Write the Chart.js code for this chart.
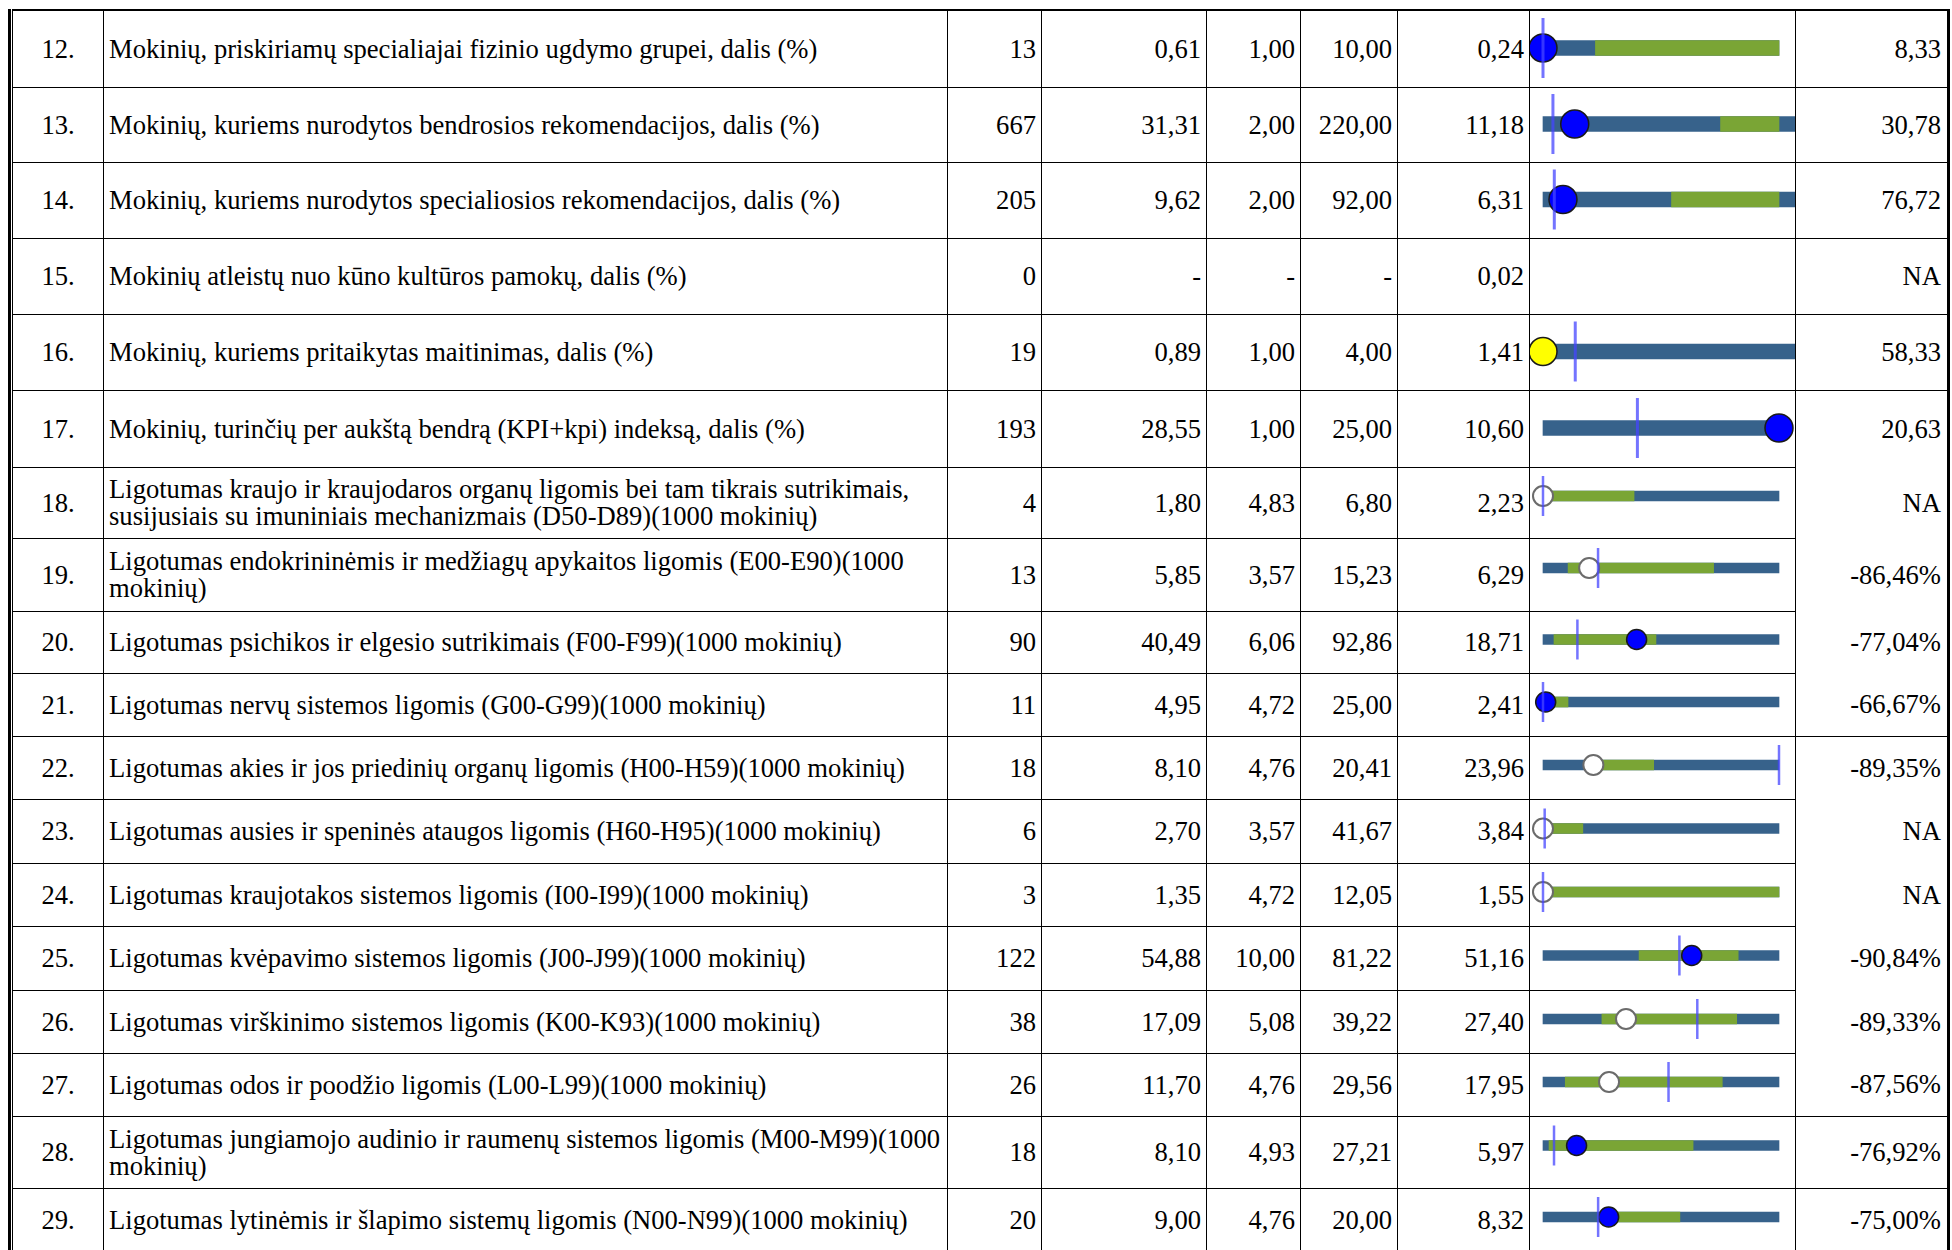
<!DOCTYPE html>
<html lang="lt">

<head>
    <meta charset="UTF-8">
    <title>Rodikliai</title>
    <script src="https://cdn.jsdelivr.net/npm/chart.js"></script>
    <style>
        body { margin: 0; background: #fff; width: 1952px; height: 1250px; overflow: hidden; }
        #wrap { position: absolute; left: 8px; top: 9px; border-left: 3px solid #000; padding-left: 1px; }
        table { border-collapse: collapse; table-layout: fixed; font-family: "Liberation Serif", "DejaVu Serif", serif; font-size: 26.6px; color: #000;
                border-top: 2px solid #000; border-right: 3px solid #000; border-left: 1px solid #000; }
        td { border: 1px solid #000; padding: 0 5px; vertical-align: middle; white-space: nowrap; line-height: 27px; overflow: hidden; }
        td.no { text-align: center; }
        td.num { text-align: right; }
        td.chart { padding: 0; }
        td.chart canvas { display: block; }
        td.last { border-top: none; border-bottom: none; text-align: right; padding-right: 6px; }
        td.last.ruled { border-top: 1px solid #000; }
    </style>
</head>

<body>
    <div id="wrap">
        <table id="tbl">
            <colgroup>
                <col style="width:91px"><col style="width:844px"><col style="width:94px"><col style="width:165px">
                <col style="width:94px"><col style="width:97px"><col style="width:132px"><col style="width:266px"><col style="width:153px">
            </colgroup>
            <tbody id="body"></tbody>
        </table>
    </div>
</body>

</html>
<script>
    // table data
    const rowNo = [12, 13, 14, 15, 16, 17, 18, 19, 20, 21, 22, 23, 24, 25, 26, 27, 28, 29];
    const labels = [
        'Mokinių, priskiriamų specialiajai fizinio ugdymo grupei, dalis (%)',
        'Mokinių, kuriems nurodytos bendrosios rekomendacijos, dalis (%)',
        'Mokinių, kuriems nurodytos specialiosios rekomendacijos, dalis (%)',
        'Mokinių atleistų nuo kūno kultūros pamokų, dalis (%)',
        'Mokinių, kuriems pritaikytas maitinimas, dalis (%)',
        'Mokinių, turinčių per aukštą bendrą (KPI+kpi) indeksą, dalis (%)',
        'Ligotumas kraujo ir kraujodaros organų ligomis bei tam tikrais sutrikimais,<br>susijusiais su imuniniais mechanizmais (D50-D89)(1000 mokinių)',
        'Ligotumas endokrininėmis ir medžiagų apykaitos ligomis (E00-E90)(1000<br>mokinių)',
        'Ligotumas psichikos ir elgesio sutrikimais (F00-F99)(1000 mokinių)',
        'Ligotumas nervų sistemos ligomis (G00-G99)(1000 mokinių)',
        'Ligotumas akies ir jos priedinių organų ligomis (H00-H59)(1000 mokinių)',
        'Ligotumas ausies ir speninės ataugos ligomis (H60-H95)(1000 mokinių)',
        'Ligotumas kraujotakos sistemos ligomis (I00-I99)(1000 mokinių)',
        'Ligotumas kvėpavimo sistemos ligomis (J00-J99)(1000 mokinių)',
        'Ligotumas virškinimo sistemos ligomis (K00-K93)(1000 mokinių)',
        'Ligotumas odos ir poodžio ligomis (L00-L99)(1000 mokinių)',
        'Ligotumas jungiamojo audinio ir raumenų sistemos ligomis (M00-M99)(1000<br>mokinių)',
        'Ligotumas lytinėmis ir šlapimo sistemų ligomis (N00-N99)(1000 mokinių)'
    ];
    const counts = [13, 667, 205, 0, 19, 193, 4, 13, 90, 11, 18, 6, 3, 122, 38, 26, 18, 20];
    const values = [0.61, 31.31, 9.62, null, 0.89, 28.55, 1.80, 5.85, 40.49, 4.95, 8.10, 2.70, 1.35, 54.88, 17.09, 11.70, 8.10, 9.00];
    const mins = [1.00, 2.00, 2.00, null, 1.00, 1.00, 4.83, 3.57, 6.06, 4.72, 4.76, 3.57, 4.72, 10.00, 5.08, 4.76, 4.93, 4.76];
    const maxs = [10.00, 220.00, 92.00, null, 4.00, 25.00, 6.80, 15.23, 92.86, 25.00, 20.41, 41.67, 12.05, 81.22, 39.22, 29.56, 27.21, 20.00];
    const avgs = [0.24, 11.18, 6.31, 0.02, 1.41, 10.60, 2.23, 6.29, 18.71, 2.41, 23.96, 3.84, 1.55, 51.16, 27.40, 17.95, 5.97, 8.32];
    const changes = ['8,33', '30,78', '76,72', 'NA', '58,33', '20,63', 'NA', '-86,46%', '-77,04%', '-66,67%', '-89,35%', 'NA', 'NA', '-90,84%', '-89,33%', '-87,56%', '-76,92%', '-75,00%'];
    // bullet chart: green band and blue tail past the max
    const greenLo = [3.0, 166, 51, null, null, null, 4.83, 4.81, 10.1, 4.72, 7.9, 3.57, 4.72, 39.0, 13.6, 7.1, 5.5, 8.5];
    const greenHi = [10.0, 220, 92, null, null, null, 5.59, 12.0, 47.6, 6.87, 12.1, 10.0, 12.05, 68.9, 33.1, 23.6, 19.1, 13.6];
    const tailEnd = [null, 240, 100, null, 4.3, null, null, null, null, null, null, null, null, null, null, null, null, null];
    const status = ['good', 'good', 'good', null, 'warn', 'good', 'ns', 'ns', 'good', 'good', 'ns', 'ns', 'ns', 'good', 'ns', 'ns', 'good', 'good'];

    // layout
    const rowH = [77, 75, 76, 76, 76, 77, 71, 73, 62, 63, 63, 64, 63, 64, 63, 63, 72, 63];
    const lastColRuled = new Set([12, 13, 14, 15, 16, 17, 22, 28, 29]);
    const BLUE = '#37628b', GREEN = '#7aa535';
    const markerFill = { good: '#0000ff', warn: '#ffff00', ns: '#ffffff' };
    const markerEdge = { good: '#1a1a1a', warn: '#1a1a1a', ns: '#6b6b6b' };

    const fmt = v => v == null ? '-' : v.toFixed(2).replace('.', ',');
    const clamp = (v, lo, hi) => Math.min(Math.max(v, lo), hi);

    const body = document.getElementById('body');
    rowNo.forEach((n, i) => {
        const tr = document.createElement('tr');
        tr.style.height = rowH[i] + 'px';
        tr.innerHTML =
            '<td class="no">' + n + '.</td>' +
            '<td>' + labels[i] + '</td>' +
            '<td class="num">' + counts[i] + '</td>' +
            '<td class="num">' + fmt(values[i]) + '</td>' +
            '<td class="num">' + fmt(mins[i]) + '</td>' +
            '<td class="num">' + fmt(maxs[i]) + '</td>' +
            '<td class="num">' + fmt(avgs[i]) + '</td>' +
            '<td class="chart"><canvas id="c' + i + '" width="265" height="' + (rowH[i] - 1) + '"></canvas></td>' +
            '<td class="last' + (lastColRuled.has(n) ? ' ruled' : '') + '">' + changes[i] + '</td>';
        body.appendChild(tr);
    });

    rowNo.forEach((n, i) => {
        if (mins[i] == null) return;
        const big = i < 6;
        const tall = rowH[i] > 70 && !big;
        const lo = mins[i], hi = maxs[i];
        new Chart(document.getElementById('c' + i), {
            type: 'bar',
            data: {
                labels: ['r'],
                datasets: [{
                    data: [[lo, tailEnd[i] ?? hi]],
                    backgroundColor: BLUE,
                    barThickness: big ? 15 : 10,
                    grouped: false,
                    order: 4,
                    clip: false
                }, {
                    data: [greenLo[i] == null ? null : [greenLo[i], greenHi[i]]],
                    backgroundColor: GREEN,
                    barThickness: big ? 15 : 10,
                    grouped: false,
                    order: 3,
                    clip: false
                }, {
                    type: 'line',
                    data: [clamp(values[i], lo, hi)],
                    showLine: false,
                    pointRadius: big ? 14 : 10,
                    pointBackgroundColor: markerFill[status[i]],
                    pointBorderColor: markerEdge[status[i]],
                    pointBorderWidth: status[i] == 'ns' ? 2 : 1.5,
                    order: 2,
                    clip: false
                }, {
                    type: 'line',
                    data: [clamp(avgs[i], lo, hi)],
                    showLine: false,
                    pointStyle: 'line',
                    rotation: 90,
                    pointRadius: big ? 30 : 20,
                    pointBorderColor: 'rgba(70, 70, 255, 0.75)',
                    pointBorderWidth: big ? 3 : 2.5,
                    order: 1,
                    clip: false
                }]
            },
            options: {
                indexAxis: 'y',
                responsive: false,
                animation: false,
                events: [],
                layout: { autoPadding: false, padding: { left: 13, right: 16, top: 0, bottom: big ? 2 : (tall ? 14 : 6) } },
                scales: {
                    x: { type: 'linear', min: lo, max: hi, display: false },
                    y: { type: 'category', display: false }
                },
                plugins: { legend: { display: false }, tooltip: { enabled: false } }
            }
        });
    });
</script>
